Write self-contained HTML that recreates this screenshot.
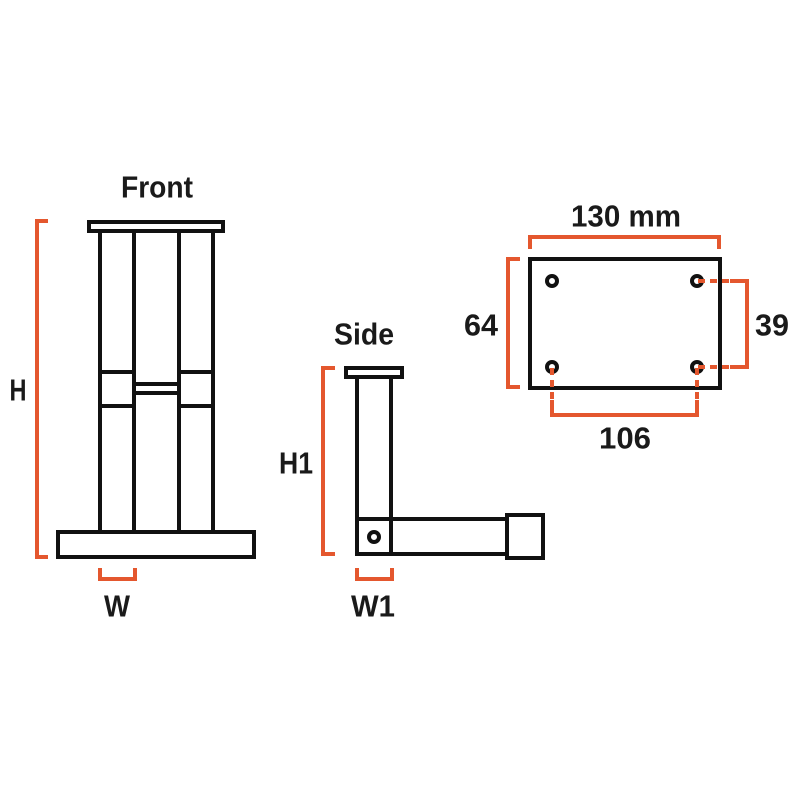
<!DOCTYPE html>
<html><head><meta charset="utf-8"><style>
html,body{margin:0;padding:0;background:#fff;}
svg text{font-family:"Liberation Sans",sans-serif;font-size:31px;font-weight:bold;fill:#1a1a1a;text-anchor:middle;dominant-baseline:central;}
</style></head><body>
<svg width="800" height="800" viewBox="0 0 800 800" xmlns="http://www.w3.org/2000/svg">
<g fill="none" stroke="#111" stroke-width="4">
<rect x="89" y="222" width="134" height="9"/>
<line x1="100" y1="231" x2="100" y2="532"/>
<line x1="134" y1="231" x2="134" y2="532"/>
<line x1="179" y1="231" x2="179" y2="532"/>
<line x1="213" y1="231" x2="213" y2="532"/>
<line x1="100" y1="372" x2="134" y2="372"/>
<line x1="100" y1="406" x2="134" y2="406"/>
<line x1="179" y1="372" x2="213" y2="372"/>
<line x1="179" y1="406" x2="213" y2="406"/>
<line x1="134" y1="384" x2="179" y2="384"/>
<line x1="134" y1="393" x2="179" y2="393"/>
<rect x="58" y="532" width="196" height="25"/>
<rect x="346" y="368" width="56" height="9"/>
<rect x="357" y="377" width="34" height="177"/>
<line x1="357" y1="519" x2="391" y2="519"/>
<rect x="391" y="519" width="116" height="35"/>
<rect x="507" y="515" width="36" height="43"/>
<circle cx="374" cy="537" r="5"/>
<rect x="530" y="259" width="190" height="129"/>
<circle cx="552" cy="281" r="5"/>
<circle cx="697" cy="281" r="5"/>
<circle cx="552" cy="367" r="5"/>
<circle cx="697" cy="367" r="5"/>
</g>
<g fill="none" stroke="#e4572e" stroke-width="4">
<polyline points="48,221 37,221 37,557 48,557"/>
<polyline points="100,568 100,579 135,579 135,568"/>
<polyline points="335,368 323,368 323,554 335,554"/>
<polyline points="357,568 357,579 392,579 392,568"/>
<polyline points="530,249 530,237 719,237 719,249"/>
<polyline points="520,259 508,259 508,387 520,387"/>
<polyline points="730,281 747,281 747,367 730,367"/>
<polyline points="552,400 552,415 697,415 697,400"/>
</g>
<g fill="none" stroke="#e4572e" stroke-width="4" stroke-dasharray="7,5">
<line x1="698" y1="281" x2="730" y2="281"/>
<line x1="698" y1="367" x2="730" y2="367"/>
<line x1="552" y1="368" x2="552" y2="400"/>
<line x1="697" y1="368" x2="697" y2="400"/>
</g>
<text x="157" y="187" textLength="72" lengthAdjust="spacingAndGlyphs">Front</text>
<text x="18" y="390" textLength="17" lengthAdjust="spacingAndGlyphs">H</text>
<text x="117" y="606" textLength="26" lengthAdjust="spacingAndGlyphs">W</text>
<text x="364" y="334" textLength="60" lengthAdjust="spacingAndGlyphs">Side</text>
<text x="296" y="463" textLength="34" lengthAdjust="spacingAndGlyphs">H1</text>
<text x="373" y="606" textLength="44" lengthAdjust="spacingAndGlyphs">W1</text>
<text x="626" y="216" textLength="110" lengthAdjust="spacingAndGlyphs">130 mm</text>
<text x="481" y="325" textLength="34" lengthAdjust="spacingAndGlyphs">64</text>
<text x="772" y="325" textLength="34" lengthAdjust="spacingAndGlyphs">39</text>
<text x="625" y="438" textLength="52" lengthAdjust="spacingAndGlyphs">106</text>
</svg>
</body></html>
